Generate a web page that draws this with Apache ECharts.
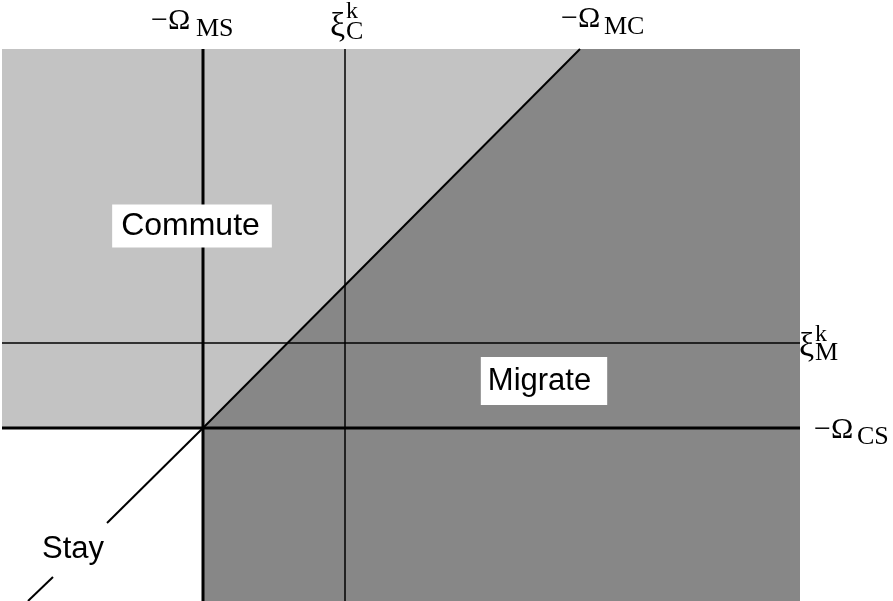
<!DOCTYPE html>
<html><head><meta charset="utf-8">
<script src="https://cdn.jsdelivr.net/npm/echarts@6/dist/echarts.min.js"></script>
<style>html,body{margin:0;padding:0;background:#fff}#c{width:893px;height:601px}</style>
</head><body><div id="c"></div>
<script>
// Thresholds (data units: x to the right, y upward)
const xThresholds = [203, 345];          // -Ω_MS (thick), ξ_C^k (thin)
const yThresholds = [173, 258];          // -Ω_CS (thick), ξ_M^k (thin)
const diagonal = [[203, 173], [580, 552]];
const stayUpper = [[203, 173], [107, 78]];
const stayLower = [[53, 24], [28, 0]];
const commuteRegion = [[2, 552], [580, 552], [203, 173], [2, 173]];
const migrateRegion = [[580, 552], [800, 552], [800, 0], [203, 0], [203, 173]];
// Region labels
const regionNames = ['Commute', 'Migrate', 'Stay'];
const regionPos = [[192, 375], [544, 220], [73, 52]];
// Axis symbols (text fragments): main symbol, subscript, superscript
const symText = ['−Ω', 'MS', 'ξ', 'k', 'C', '−Ω', 'MC', 'ξ', 'k', 'M', '−Ω', 'CS'];
const symKind = ['main', 'sub', 'xi', 'sup', 'sub', 'main', 'sub', 'xi', 'sup', 'sub', 'main', 'sub'];
const symPos = [[151, 580], [196, 572], [330, 574], [346, 589], [346, 569], [561, 582], [604, 574],
                [799, 254], [815, 266], [815, 248], [814, 171], [857, 164]];

const chart = echarts.init(document.getElementById('c'));
function poly(color, pts) {
  return {
    type: 'custom', coordinateSystem: 'cartesian2d', silent: true, z: 1,
    data: [0],
    renderItem: (params, api) => ({
      type: 'polygon',
      shape: { points: pts.map(p => api.coord(p)) },
      style: { fill: color }
    })
  };
}
function seg(points, width) {
  return { type: 'line', data: points, symbol: 'none', silent: true, z: 3,
    lineStyle: { color: '#000', width: width } };
}
const series = [poly('#c3c3c3', commuteRegion), poly('#878787', migrateRegion)];
xThresholds.forEach((x, i) => series.push(seg([[x, 0], [x, 552]], i === 0 ? 3 : 1.5)));
yThresholds.forEach((y, i) => series.push(seg([[2, y], [800, y]], i === 0 ? 3 : 1.5)));
series.push(seg(diagonal, 2), seg(stayUpper, 2), seg(stayLower, 2));
const pads = [[6, 12, 5, 9], [9, 16, 8, 7], 0];
series.push({
  type: 'scatter', symbolSize: 0, clip: false, silent: true, z: 5,
  itemStyle: { opacity: 1 },
  data: regionNames.map((n, i) => ({
    value: regionPos[i],
    label: {
      show: true, formatter: n, position: 'inside',
      fontFamily: 'Liberation Sans, Arial, sans-serif', fontSize: i === 0 ? 32 : 31, color: '#000',
      backgroundColor: i < 2 ? '#fff' : 'transparent',
      padding: pads[i]
    }
  }))
});
const kindSize = { main: 30, sub: 26, sup: 24, xi: 34 };
series.push({
  type: 'scatter', symbolSize: 0, clip: false, silent: true, z: 5,
  itemStyle: { opacity: 1 },
  data: symText.map((t, i) => ({
    value: symPos[i],
    label: {
      show: true, formatter: t, position: 'inside', align: 'left', verticalAlign: 'middle',
      fontFamily: 'Liberation Serif, Times New Roman, serif', fontSize: kindSize[symKind[i]], color: '#000'
    }
  }))
});
chart.setOption({
  animation: false,
  grid: { left: 2, right: 93, top: 49, bottom: 0 },
  xAxis: { type: 'value', min: 2, max: 800, show: false },
  yAxis: { type: 'value', min: 0, max: 552, show: false },
  series: series
});
</script></body></html>
